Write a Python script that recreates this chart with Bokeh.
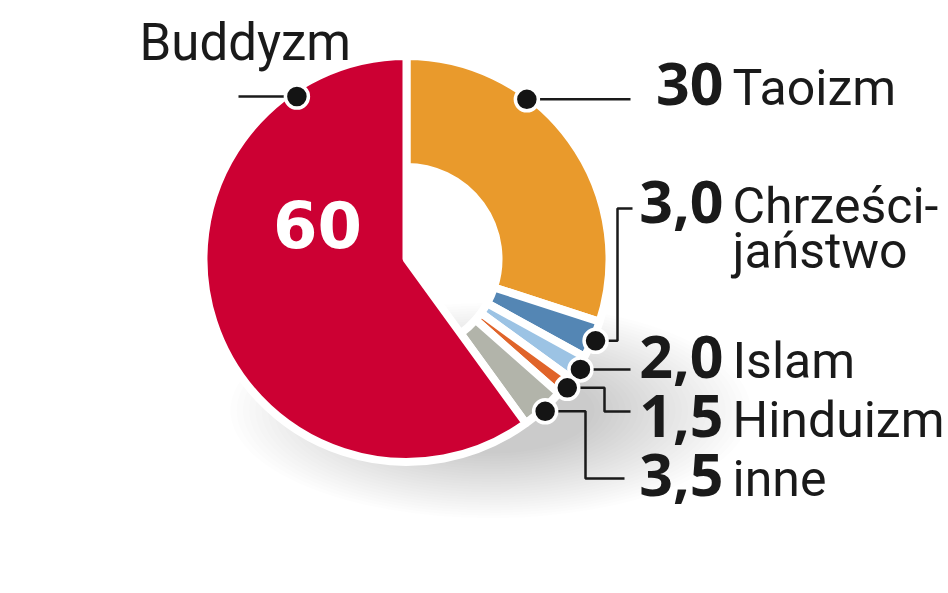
import math

from bokeh.core.properties import value
from bokeh.embed import file_html
from bokeh.models import Range1d
from bokeh.plotting import figure
from bokeh.resources import INLINE

# data: share of religions (in %), clockwise from 12 o'clock
names = ["Taoizm", "Chrześcijaństwo", "Islam", "Hinduizm", "inne", "Buddyzm"]
shares = [30, 3.0, 2.0, 1.5, 3.5, 60]
value_labels = ["30", "3,0", "2,0", "1,5", "3,5", "60"]
colors = ["#E99A2C", "#5486B4", "#9CC3E4", "#E0642A", "#B2B4AA", "#CC0033"]

W, H = 948, 593


# page pixel -> data coordinates (1 unit = 1 px)
def px(x):
    return x


def py(y):
    return H - y


# svg text lands ~0.36em below the requested alphabetic baseline
def base(y, fs, k=0.36):
    return py(y) + k * fs


cx, cy = px(406), py(258.5)
r_out, r_in = 203, 92

p = figure(width=W, height=H, output_backend="svg", toolbar_location=None,
           x_range=Range1d(0, W), y_range=Range1d(0, H),
           min_border=0, outline_line_color=None)
p.axis.visible = False
p.grid.visible = False

# soft shadow under the lower right part of the pie
for k in range(26):
    s = 1.0 - k * 0.024
    p.ellipse(x=[px(490)], y=[py(410)], width=[520 * s], height=[215 * s],
              fill_color="#707070", fill_alpha=0.015, line_color=None)

# slices
total = sum(shares)
cum = 0
starts, ends, mids = [], [], []
for v in shares:
    a0 = math.radians(90 - (cum + v) / total * 360)
    a1 = math.radians(90 - cum / total * 360)
    starts.append(a0)
    ends.append(a1)
    mids.append((a0 + a1) / 2)
    cum += v

p.annular_wedge(x=cx, y=cy, inner_radius=r_in, outer_radius=r_out,
                start_angle=starts[:-1], end_angle=ends[:-1],
                fill_color=colors[:-1], line_color="white", line_width=8)
p.wedge(x=cx, y=cy, radius=r_out, start_angle=starts[-1:], end_angle=ends[-1:],
        fill_color=colors[-1], line_color="white", line_width=8)

# leader dots: (angle deg, radius) overrides for the two big slices
dot_pos = {"Taoizm": (53, 200), "Buddyzm": (124, 196)}
dots_x, dots_y = [], []
for n, m in zip(names, mids):
    if n in dot_pos:
        a, r = math.radians(dot_pos[n][0]), dot_pos[n][1]
    else:
        a, r = m, 206
    dots_x.append(cx + r * math.cos(a))
    dots_y.append(cy + r * math.sin(a))

# leader routing: (bend_x, target_y, end_x) in page px; bend_x None = straight
leaders = {
    "Taoizm": (None, None, 630),
    "Chrześcijaństwo": (617, 208, 632),
    "Islam": (None, None, 630),
    "Hinduizm": (604, 411, 630),
    "inne": (585, 478, 624),
    "Buddyzm": (None, None, 238),
}
xs, ys = [], []
for n, dx, dy in zip(names, dots_x, dots_y):
    bx, ty, ex = leaders[n]
    if bx is None:
        xs.append([dx, px(ex)])
        ys.append([dy, dy])
    else:
        xs.append([dx, px(bx), px(bx), px(ex)])
        ys.append([dy, dy, py(ty), py(ty)])
p.multi_line(xs, ys, line_color="#1a1a1a", line_width=2.5)
p.circle(dots_x, dots_y, radius=11.5, fill_color="#141414",
         line_color="white", line_width=3.5)

# labels on the right
label_names = ["Taoizm", "Chrześci-", "Islam", "Hinduizm", "inne"]
baselines = [105, 223, 378, 437, 496]
fs_num, fs_name = 59, 50
p.text(x=[px(723)] * 5, y=[base(b, fs_num) for b in baselines],
       text=value_labels[:5],
       text_font=value("Open Sans"), text_font_style="bold",
       text_font_size=f"{fs_num}px", text_color="#1a1a1a",
       text_align="right", text_baseline="alphabetic")
p.text(x=[px(732)] * 5, y=[base(b, fs_name) for b in baselines],
       text=label_names,
       text_font=value("Roboto"), text_font_size=f"{fs_name}px",
       text_color="#1a1a1a", text_align="left", text_baseline="alphabetic")
p.text(x=[px(732)], y=[base(268, fs_name)], text=["jańs\u00adtwo".replace("\u00ad", "")],
       text_font=value("Roboto"), text_font_size=f"{fs_name}px",
       text_color="#1a1a1a", text_align="left", text_baseline="alphabetic")

# Buddyzm label and value inside the slice
p.text(x=[px(139)], y=[base(60, 51)], text=["Buddyzm"],
       text_font=value("Roboto"), text_font_size="51px", text_color="#1a1a1a",
       text_align="left", text_baseline="alphabetic")
p.text(x=[px(317)], y=[base(250, 64, 0.41)], text=[value_labels[5]],
       text_font=value("DejaVu Sans"), text_font_style="bold",
       text_font_size="64px", text_color="white",
       text_align="center", text_baseline="alphabetic")

open("out.html", "w").write(file_html(p, INLINE))
